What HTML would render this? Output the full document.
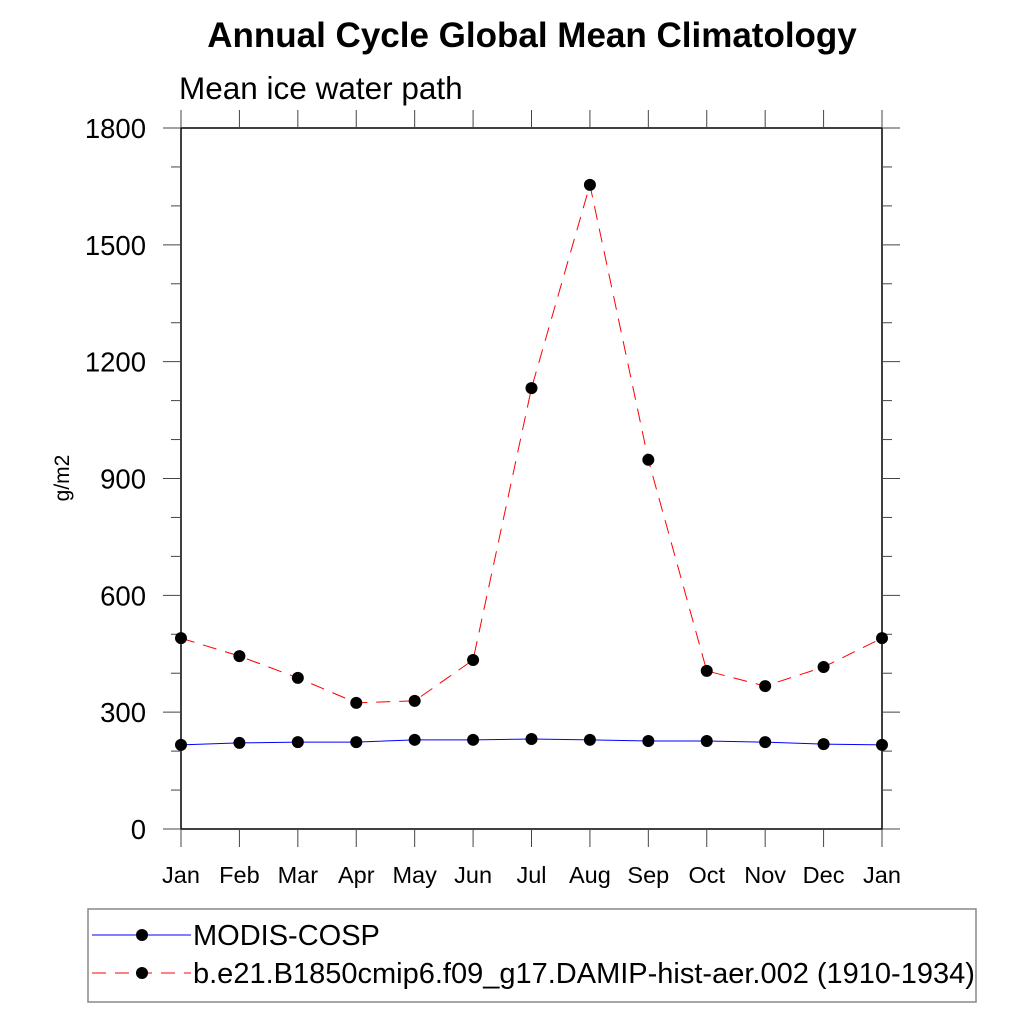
<!DOCTYPE html>
<html><head><meta charset="utf-8"><style>
body{margin:0;background:#fff}
svg text{font-family:"Liberation Sans",Arial,sans-serif}
</style></head><body>
<svg id="chart" width="1024" height="1024" xmlns="http://www.w3.org/2000/svg">
<text x="532" y="47" text-anchor="middle" font-size="35" font-weight="bold">Annual Cycle Global Mean Climatology</text>
<text x="179" y="99" font-size="31.5">Mean ice water path</text>
<text transform="translate(69,478) rotate(-90)" text-anchor="middle" font-size="21">g/m2</text>
<g id="axes"></g>
<g id="series"></g>
<rect x="88" y="909" width="888" height="93" fill="none" stroke="#888" stroke-width="1.5"/>
<line x1="92" y1="935" x2="191" y2="935" stroke="#0000ff" stroke-width="1"/>
<circle cx="142" cy="935" r="6"/>
<text x="193" y="945" font-size="29">MODIS-COSP</text>
<line x1="92" y1="973" x2="191" y2="973" stroke="#ff0000" stroke-width="1" stroke-dasharray="14,9"/>
<circle cx="142" cy="973" r="6"/>
<text x="193" y="983" font-size="29">b.e21.B1850cmip6.f09_g17.DAMIP-hist-aer.002 (1910-1934)</text>
</svg>
<script>
const months=["Jan","Feb","Mar","Apr","May","Jun","Jul","Aug","Sep","Oct","Nov","Dec","Jan"];
const modisValues=[216,221,223,223,229,229,231,229,226,226,223,218,216];
const modelValues=[490,444,388,324,329,434,1132,1654,948,406,367,416,490];
const yTicks=[0,300,600,900,1200,1500,1800];
const NS="http://www.w3.org/2000/svg";
const X0=181,X1=882,Y0=829,Y1=128,YMAX=1800;
const xs=i=>X0+(X1-X0)*i/(months.length-1);
const ys=v=>Y0-(Y0-Y1)*v/YMAX;
function mk(t,a,p){const e=document.createElementNS(NS,t);for(const k in a)e.setAttribute(k,a[k]);p.appendChild(e);return e;}
const ax=document.getElementById('axes'),sr=document.getElementById('series');
const frame=mk('rect',{x:X0,y:Y1,width:X1-X0,height:Y0-Y1,fill:'none',stroke:'#000','stroke-width':1.5},ax);


for(let v=0;v<=YMAX;v+=100){const maj=v%300===0;const L=maj?18:10;const y=ys(v);
 const t1=mk('line',{x1:X0-L,y1:y,x2:X0,y2:y,stroke:'#444','stroke-width':1},ax);
 
 
 const t2=mk('line',{x1:X1,y1:y,x2:X1+L,y2:y,stroke:'#444','stroke-width':1},ax);
 
 }
yTicks.forEach(v=>{const t=mk('text',{x:X0-35,y:ys(v)+10,'text-anchor':'end','font-size':27.5},ax);t.textContent=v;
 
 });
months.forEach((m,i)=>{const x=xs(i);
 const b=mk('line',{x1:x,y1:Y0,x2:x,y2:Y0+18,stroke:'#444','stroke-width':1},ax);
 
 
 const tp=mk('line',{x1:x,y1:Y1-18,x2:x,y2:Y1,stroke:'#444','stroke-width':1},ax);
 
 
 const t=mk('text',{x:x,y:883,'text-anchor':'middle','font-size':23.5},ax);t.textContent=m;
 
 });
function series(vals,color,dash,name){
 const pts=vals.map((v,i)=>xs(i)+','+ys(v)).join(' ');
 const l=mk('polyline',{points:pts,fill:'none',stroke:color,'stroke-width':1,'stroke-dasharray':dash},sr);
 
 
 vals.forEach((v,i)=>{const c=mk('circle',{cx:xs(i),cy:ys(v),r:6,fill:'#000'},sr);
  
  });
}
series(modisValues,'#0000ff','none','modis');
series(modelValues,'#ff0000','14,9','model');
</script>
</body></html>
